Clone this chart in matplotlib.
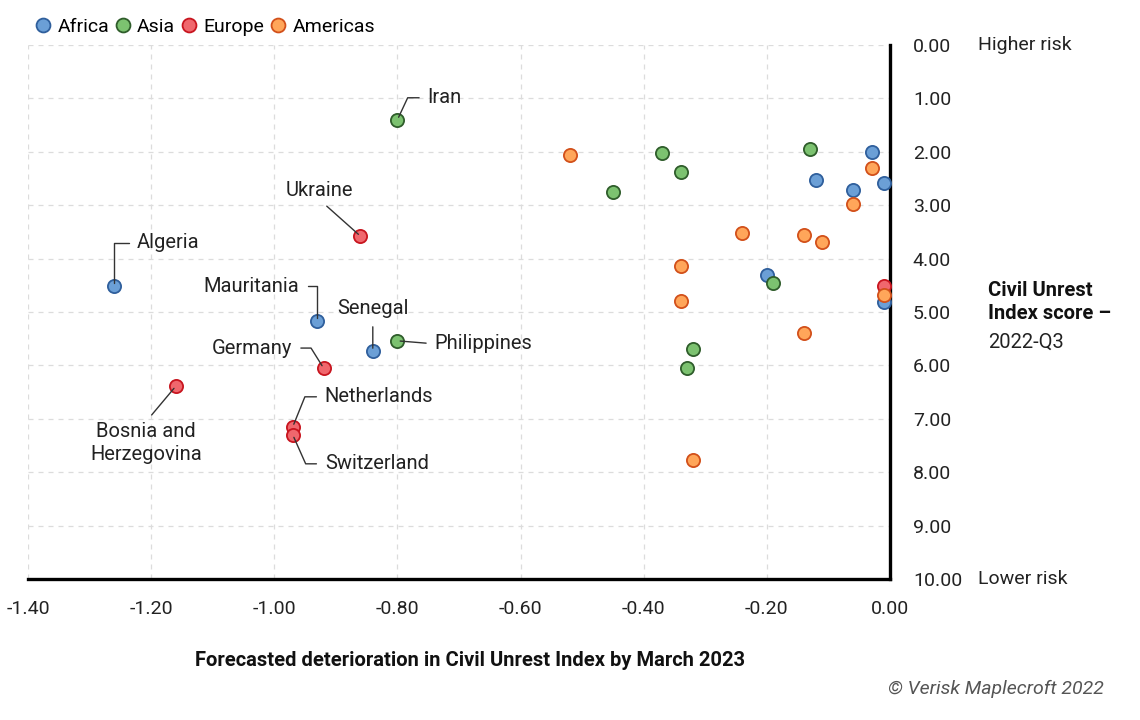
import matplotlib.pyplot as plt
from matplotlib.lines import Line2D

plt.rcParams['font.family'] = ['Roboto', 'DejaVu Sans']

# forecasted change (x) and Civil Unrest Index score 2022-Q3 (y)
africa_x = [-1.26, -0.93, -0.84, -0.03, -0.12, -0.01, -0.06, -0.20, -0.01]
africa_y = [4.51, 5.17, 5.73, 2.00, 2.52, 2.58, 2.72, 4.31, 4.81]

asia_x = [-0.80, -0.80, -0.37, -0.34, -0.45, -0.13, -0.19, -0.32, -0.33]
asia_y = [1.40, 5.54, 2.03, 2.37, 2.75, 1.95, 4.46, 5.70, 6.04]

europe_x = [-0.86, -0.92, -1.16, -0.97, -0.97, -0.01]
europe_y = [3.58, 6.05, 6.39, 7.15, 7.30, 4.51]

americas_x = [-0.52, -0.03, -0.06, -0.24, -0.14, -0.11, -0.34, -0.34, -0.01, -0.14, -0.32]
americas_y = [2.06, 2.31, 2.97, 3.52, 3.55, 3.69, 4.14, 4.80, 4.69, 5.39, 7.78]

regions = ['Africa', 'Asia', 'Europe', 'Americas']
fills = ['#6b9fd6', '#7cc270', '#f0676d', '#ffa65a']
edges = ['#2f5f9c', '#2f5d2b', '#c8151f', '#d2501a']

# labelled countries: name, x, y, text offset (px), alignment, connection
labels = [
    ('Iran', -0.80, 1.40, (30, 22), 'left', 'angle,angleA=0,angleB=65,rad=0'),
    ('Algeria', -1.26, 4.51, (23, 43), 'left', 'angle,angleA=0,angleB=90,rad=0'),
    ('Ukraine', -0.86, 3.58, (-41, 46), 'center', 'arc3'),
    ('Mauritania', -0.93, 5.17, (-18, 35), 'right', 'angle,angleA=0,angleB=90,rad=0'),
    ('Senegal', -0.84, 5.73, (0, 42), 'center', 'arc3'),
    ('Philippines', -0.80, 5.54, (37, -3), 'left', 'arc3'),
    ('Germany', -0.92, 6.05, (-31, 20), 'right', 'angle,angleA=0,angleB=122,rad=0'),
    ('Bosnia and\nHerzegovina', -1.16, 6.39, (-30, -57), 'center', 'arc3'),
    ('Netherlands', -0.97, 7.15, (32, 30), 'left', 'angle,angleA=0,angleB=68,rad=0'),
    ('Switzerland', -0.97, 7.30, (32, -29), 'left', 'angle,angleA=0,angleB=-66,rad=0'),
]

fig = plt.figure(figsize=(11.4, 7.2), dpi=100)
ax = fig.add_axes([28 / 1140, 1 - 579 / 720, 862 / 1140, 534 / 720])

series = [(africa_x, africa_y), (asia_x, asia_y), (europe_x, europe_y), (americas_x, americas_y)]
for (xs, ys), fc, ec in zip(series, fills, edges):
    ax.scatter(xs, ys, s=90, facecolor=fc, edgecolor=ec, linewidth=1.3, zorder=3, clip_on=False)

for name, x, y, off, ha, conn in labels:
    relpos = {'left': (0, 0.5), 'right': (1, 0.5), 'center': (0.5, 0.5)}[ha]
    if name == 'Ukraine' or name == 'Senegal':
        relpos = (0.5, 0)
    if name.startswith('Bosnia'):
        relpos = (0.5, 1)
    ax.annotate(name, xy=(x, y), xytext=off, textcoords='offset pixels',
                ha=ha, va='center', fontsize=14.5, color='#222222', linespacing=1.3,
                arrowprops=dict(arrowstyle='-', color='#333333', lw=1.0,
                                connectionstyle=conn, relpos=relpos,
                                shrinkA=4, shrinkB=2))

ax.set_xlim(-1.4, 0)
ax.set_ylim(10, 0)
ax.set_xticks([-1.4, -1.2, -1.0, -0.8, -0.6, -0.4, -0.2, 0.0])
ax.set_xticklabels(['%.2f' % v for v in ax.get_xticks()])
ax.set_yticks(range(0, 11))
ax.set_yticklabels(['%.2f' % v for v in range(0, 11)])
ax.yaxis.tick_right()
ax.tick_params(axis='x', length=0, pad=15, labelsize=14, colors='#222222')
ax.tick_params(axis='y', length=0, pad=16.5, labelsize=14, colors='#222222')
for t in ax.get_yticklabels():
    t.set_ha('left')

ax.grid(True, color='#dcdcdc', linestyle=(0, (4, 4)), linewidth=0.9)
ax.set_axisbelow(True)
for side in ['top', 'left']:
    ax.spines[side].set_visible(False)
for side in ['bottom', 'right']:
    ax.spines[side].set_linewidth(2.4)
    ax.spines[side].set_color('black')

ytr = ax.get_yaxis_transform()
ax.annotate('Higher risk', xy=(1, 0), xycoords=ytr, xytext=(88, 0),
            textcoords='offset pixels', va='center', fontsize=14, color='#222222')
ax.annotate('Lower risk', xy=(1, 10), xycoords=ytr, xytext=(88, 0),
            textcoords='offset pixels', va='center', fontsize=14, color='#222222')

fig.text(988 / 1140, 1 - 302 / 720, 'Civil Unrest\nIndex score \u2013', fontsize=14.5,
         fontweight='bold', va='center', ha='left', linespacing=1.3, color='#111111')
fig.text(988 / 1140, 1 - 342 / 720, '2022-Q3', fontsize=14.5, va='center', ha='left',
         color='#222222')

fig.text(470 / 1140, 1 - 661 / 720, 'Forecasted deterioration in Civil Unrest Index by March 2023',
         fontsize=14.5, fontweight='bold', ha='center', va='center', color='#111111')
fig.text(1104 / 1140, 1 - 689 / 720, '\u00a9 Verisk Maplecroft 2022', fontsize=14,
         style='italic', ha='right', va='center', color='#555555')

handles = [Line2D([], [], marker='o', linestyle='none', markersize=10,
                  markerfacecolor=fc, markeredgecolor=ec, markeredgewidth=1.3)
           for fc, ec in zip(fills, edges)]
fig.legend(handles, regions, loc='center left', bbox_to_anchor=(33 / 1140, 1 - 27 / 720),
           ncol=4, frameon=False, fontsize=14, handletextpad=0.25, columnspacing=0.2,
           handlelength=1.0, borderaxespad=0, borderpad=0)

fig.savefig('out.png', dpi=100)
